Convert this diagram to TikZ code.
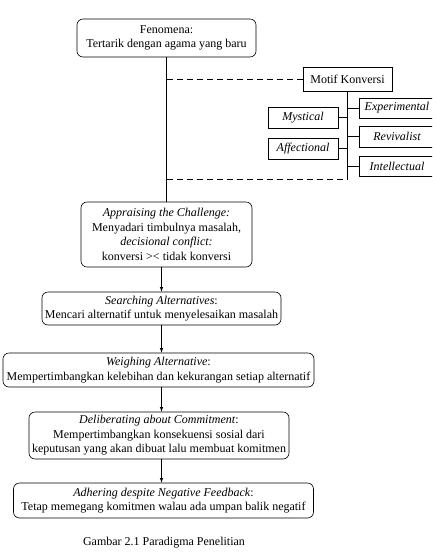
\documentclass[tikz,border=0pt]{standalone}
\usepackage{fontspec}
\setmainfont{Liberation Serif}
\usetikzlibrary{arrows}

\begin{document}
\begin{tikzpicture}[x=1pt, y=1pt, line width=0.6pt,
  tahap/.style={draw, rounded corners=6pt, align=center, inner sep=2pt,
    font=\fontsize{12}{14.5}\selectfont},
  motif/.style={draw, align=center, inner sep=2pt,
    font=\fontsize{12}{14}\selectfont},
  putus/.style={dash pattern=on 6pt off 4pt},
  panah/.style={-latex}]
  \useasboundingbox (0,0) rectangle (432,-558);
  \clip (0,0) rectangle (432,-558);

  \node[tahap, minimum width=179pt, minimum height=38pt] (Fenomena) at (166.5,-38)
  {Fenomena:\\ Tertarik dengan agama yang baru};

  \node[motif, minimum width=89pt, minimum height=24pt] (Motif) at (347.5,-79)
  {Motif Konversi};
  \node[motif, minimum width=76pt, minimum height=20pt] (Experimental) at (397,-108)
  {\itshape Experimental};
  \node[motif, minimum width=76pt, minimum height=21pt] (Revivalist) at (397,-136.5)
  {\itshape Revivalist};
  \node[motif, minimum width=76pt, minimum height=20pt] (Intellectual) at (397,-166)
  {\itshape Intellectual};
  \node[motif, minimum width=70pt, minimum height=21pt] (Mystical) at (303,-117.5)
  {\itshape Mystical};
  \node[motif, minimum width=70pt, minimum height=21pt] (Affectional) at (303,-148.5)
  {\itshape Affectional};

  \node[tahap, minimum width=171pt, minimum height=65pt] (Appraising) at (166.5,-234.5)
  {\textit{Appraising the Challenge:}\\ Menyadari timbulnya masalah,\\
    \textit{decisional conflict:}\\ konversi >< tidak konversi};
  \node[tahap, minimum width=239pt, minimum height=33pt] (Searching) at (161.5,-308.5)
  {\textit{Searching Alternatives}:\\ Mencari alternatif untuk menyelesaikan masalah};
  \node[tahap, minimum width=311pt, minimum height=34pt] (Weighing) at (158.5,-370)
  {\textit{Weighing Alternative}:\\ Mempertimbangkan kelebihan dan kekurangan setiap alternatif};
  \node[tahap, minimum width=260pt, minimum height=47pt] (Deliberating) at (159,-435.5)
  {\textit{Deliberating about Commitment}:\\ Mempertimbangkan konsekuensi sosial dari\\
    keputusan yang akan dibuat lalu membuat komitmen};
  \node[tahap, minimum width=300pt, minimum height=35pt] (Adhering) at (163.5,-500.5)
  {\textit{Adhering despite Negative Feedback}:\\ Tetap memegang komitmen walau ada umpan balik negatif};

  \node[font=\fontsize{12}{14}\selectfont] (Gambar) at (164,-543)
  {Gambar 2.1 Paradigma Penelitian};

  % garis motif konversi
  \coordinate (MotifEnd) at (Motif.south |- 0,-179);
  \draw (Fenomena.south) -- (Appraising.north);
  \draw[putus] (Fenomena.south |- Motif.west) -- (Motif.west);
  \draw[putus] (Fenomena.south |- MotifEnd) -- (MotifEnd);
  \draw (Motif.south) -- (MotifEnd);
  \draw (Experimental.west) -- (Experimental.west -| Motif.south);
  \draw (Revivalist.west) -- (Revivalist.west -| Motif.south);
  \draw (Intellectual.west) -- (Intellectual.west -| Motif.south);
  \draw (Mystical.east) -- (Mystical.east -| Motif.south);
  \draw (Affectional.east) -- (Affectional.east -| Motif.south);

  % tahapan
  \draw[panah] (Searching.north |- Appraising.south) -- (Searching.north);
  \draw[panah] (Searching.south) -- (Searching.south |- Weighing.north);
  \draw[panah] (Searching.south |- Weighing.south) -- (Searching.south |- Deliberating.north);
  \draw[panah] (Searching.south |- Deliberating.south) -- (Searching.south |- Adhering.north);

\end{tikzpicture}
\end{document}
